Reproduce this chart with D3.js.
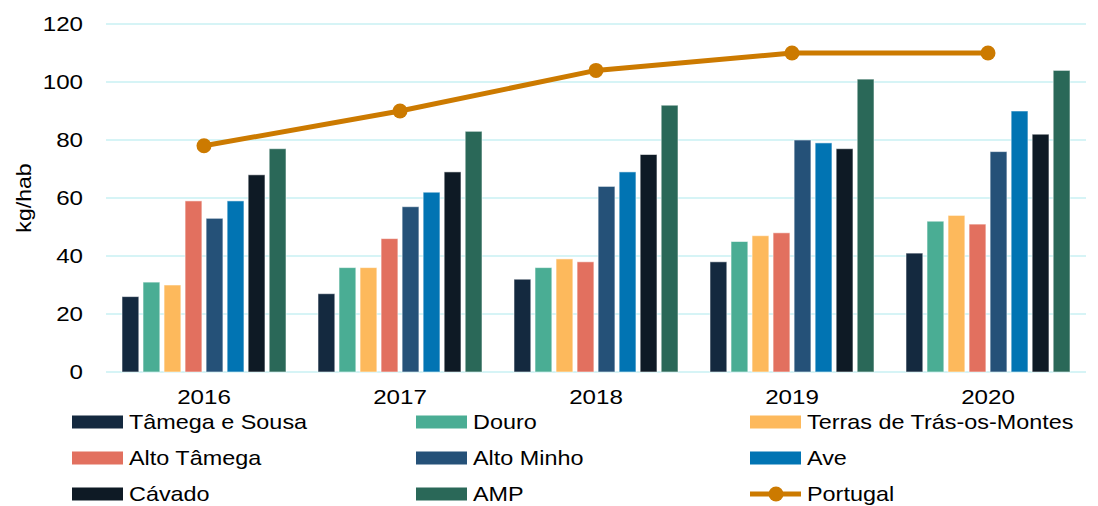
<!DOCTYPE html>
<html>
<head>
<meta charset="utf-8">
<script src="https://cdn.jsdelivr.net/npm/d3@7"></script>
<style>
  body { margin: 0; background: #fff; }
  text { font-family: "Liberation Sans", Arial, sans-serif; fill: #000; }
</style>
</head>
<body>
<div id="chart"></div>
<script>
  // categories and series
  var years = ['2016', '2017', '2018', '2019', '2020']
  var series = ['Tâmega e Sousa', 'Douro', 'Terras de Trás-os-Montes', 'Alto Tâmega',
    'Alto Minho', 'Ave', 'Cávado', 'AMP']
  var tamegaSousa = [26, 27, 32, 38, 41]
  var douro = [31, 36, 36, 45, 52]
  var terrasTM = [30, 36, 39, 47, 54]
  var altoTamega = [59, 46, 38, 48, 51]
  var altoMinho = [53, 57, 64, 80, 76]
  var ave = [59, 62, 69, 79, 90]
  var cavado = [68, 69, 75, 77, 82]
  var amp = [77, 83, 92, 101, 104]
  var portugal = [78, 90, 104, 110, 110]
  var yTicks = [0, 20, 40, 60, 80, 100, 120]

  var values = [tamegaSousa, douro, terrasTM, altoTamega, altoMinho, ave, cavado, amp]
  var colors = ['#14293f', '#4aad94', '#fdb95c', '#e2705f', '#255178', '#0174b3', '#0e1a25', '#2a6858']
  var lineColor = '#cc7a00'

  var width = 1098
  var height = 506
  var margin = { left: 106, right: 12, top: 24, bottom: 134 }
  var stretch = 1.15 // the original text is drawn a bit wide

  var svg = d3.select('#chart').append('svg')
    .attr('width', width)
    .attr('height', height)

  var x0 = d3.scaleBand().domain(years).range([margin.left, width - margin.right])
  var groupPad = 16
  var x1 = d3.scaleBand().domain(series)
    .range([groupPad, x0.bandwidth() - groupPad])
    .paddingInner(0.2)
  var y = d3.scaleLinear().domain([0, 120]).range([height - margin.bottom, margin.top])

  // gridlines
  svg.append('g').selectAll('line')
    .data(yTicks)
    .enter()
    .append('line')
    .attr('x1', margin.left)
    .attr('x2', width - margin.right)
    .attr('y1', function (d) { return y(d) })
    .attr('y2', function (d) { return y(d) })
    .attr('stroke', '#c9f1f3')
    .attr('stroke-width', 1.5)

  // y axis labels
  var yAxis = d3.axisLeft(y).tickValues(yTicks).tickSize(0).tickPadding(23 / stretch)
  var yg = svg.append('g').attr('transform', 'translate(' + margin.left + ',0)').call(yAxis)
  yg.select('.domain').remove()
  yg.selectAll('text').style('font-size', '21px').attr('fill', '#000')
    .style('font-family', '"Liberation Sans", Arial, sans-serif')
    .attr('transform', 'scale(' + stretch + ',1)')

  svg.append('text')
    .attr('transform', 'translate(31,' + y(60) + ') rotate(-90) scale(1.1,1)')
    .attr('text-anchor', 'middle')
    .style('font-size', '21px')
    .text('kg/hab')

  // x axis labels
  var xAxis = d3.axisBottom(x0).tickSize(0).tickPadding(17)
  var xg = svg.append('g').attr('transform', 'translate(0,' + y(0) + ')').call(xAxis)
  xg.select('.domain').remove()
  xg.selectAll('text').style('font-size', '21px').attr('fill', '#000')
    .style('font-family', '"Liberation Sans", Arial, sans-serif')
    .attr('transform', 'scale(' + stretch + ',1)')

  // bars
  var groups = svg.append('g').selectAll('g')
    .data(years)
    .enter()
    .append('g')
    .attr('transform', function (d) { return 'translate(' + x0(d) + ',0)' })

  groups.selectAll('rect')
    .data(function (d, i) { return series.map(function (s, j) { return { s: s, j: j, v: values[j][i] } }) })
    .enter()
    .append('rect')
    .attr('x', function (d) { return x1(d.s) })
    .attr('width', x1.bandwidth())
    .attr('y', function (d) { return y(d.v) })
    .attr('height', function (d) { return y(0) - y(d.v) })
    .attr('fill', function (d) { return colors[d.j] })
    .attr('stroke', 'rgba(255,255,255,0.55)')
    .attr('stroke-width', 1)

  // Portugal line
  var line = d3.line()
    .x(function (d, i) { return x0(years[i]) + x0.bandwidth() / 2 })
    .y(function (d) { return y(d) })

  svg.append('path')
    .datum(portugal)
    .attr('d', line)
    .attr('fill', 'none')
    .attr('stroke', lineColor)
    .attr('stroke-width', 5)

  svg.append('g').selectAll('circle')
    .data(portugal)
    .enter()
    .append('circle')
    .attr('cx', function (d, i) { return x0(years[i]) + x0.bandwidth() / 2 })
    .attr('cy', function (d) { return y(d) })
    .attr('r', 7.5)
    .attr('fill', lineColor)

  // legend
  var legendItems = series.concat(['Portugal'])
  var colX = [72, 416, 750]
  var rowY = [422, 458, 494]
  var leg = svg.append('g').selectAll('g')
    .data(legendItems)
    .enter()
    .append('g')
    .attr('transform', function (d, i) { return 'translate(' + colX[i % 3] + ',' + rowY[Math.floor(i / 3)] + ')' })

  leg.each(function (d, i) {
    var g = d3.select(this)
    if (d === 'Portugal') {
      g.append('line').attr('x1', 0).attr('x2', 51).attr('y1', 0).attr('y2', 0)
        .attr('stroke', lineColor).attr('stroke-width', 5)
      g.append('circle').attr('cx', 26).attr('cy', 0).attr('r', 7.5).attr('fill', lineColor)
    } else {
      g.append('rect').attr('x', 0).attr('y', -6.5).attr('width', 51).attr('height', 13)
        .attr('fill', colors[i])
    }
    g.append('text')
      .attr('transform', 'translate(57,0) scale(' + (stretch + 0.02) + ',1)')
      .attr('dy', '0.35em')
      .style('font-size', '20px')
      .text(d)
  })
</script>
</body>
</html>
